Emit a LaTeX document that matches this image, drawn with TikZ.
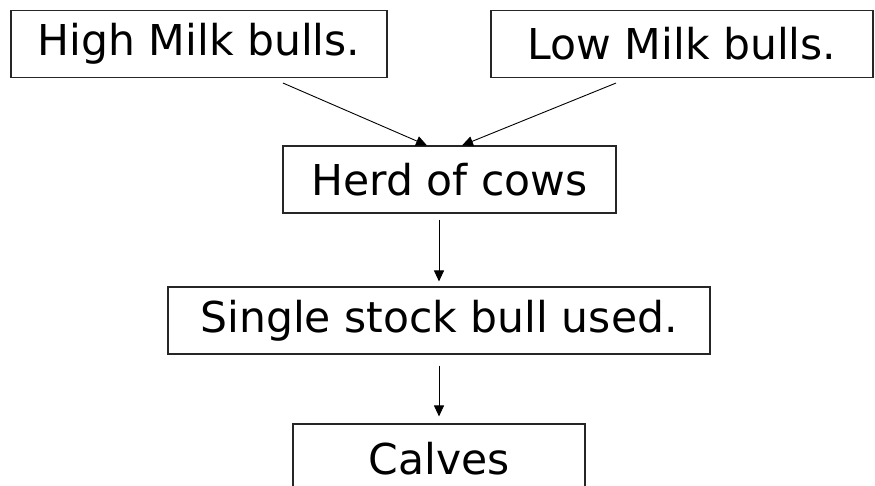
\documentclass[tikz,border=0pt]{standalone}
\usepackage{fontspec}
\setmainfont{DejaVu Sans}
\usetikzlibrary{arrows.meta}
\begin{document}
\begin{tikzpicture}[x=1pt,y=-1pt,
  box/.style={draw=black!85,line width=1.1pt,minimum height=67pt,inner sep=0pt,
    font=\fontsize{42.5}{50}\selectfont},
  arr/.style={line width=0.9pt,-{Triangle[length=11pt,width=10pt]}}]
\clip (0,0) rectangle (875,486);
\useasboundingbox (0,0) rectangle (875,486);
\node[box,minimum width=376pt] (high) at (199,44) {\raisebox{-1pt}{High Milk bulls.}};
\node[box,minimum width=382pt] (low) at (682,44) {\raisebox{-1pt}{Low Milk bulls.}};
\node[box,minimum width=333pt] (herd) at (449.5,179.5) {\raisebox{-1pt}{Herd of cows}};
\node[box,minimum width=542pt] (single) at (439,320.5) {\raisebox{-1pt}{Single stock bull used.}};
\node[box,minimum width=292pt,minimum height=80pt] (calves) at (439,464) {\raisebox{11pt}{Calves}};
\draw[arr] ([xshift=84pt,yshift=-5pt]high.south) -- ([xshift=-22.5pt]herd.north);
\draw[arr] ([xshift=-66pt,yshift=-5pt]low.south) -- ([xshift=12.5pt]herd.north);
\draw[arr] ([xshift=-10.5pt,yshift=-6pt]herd.south) -- ([yshift=5pt]single.north);
\draw[arr] ([yshift=-11pt]single.south) -- ([yshift=7pt]calves.north);
\end{tikzpicture}
\end{document}
